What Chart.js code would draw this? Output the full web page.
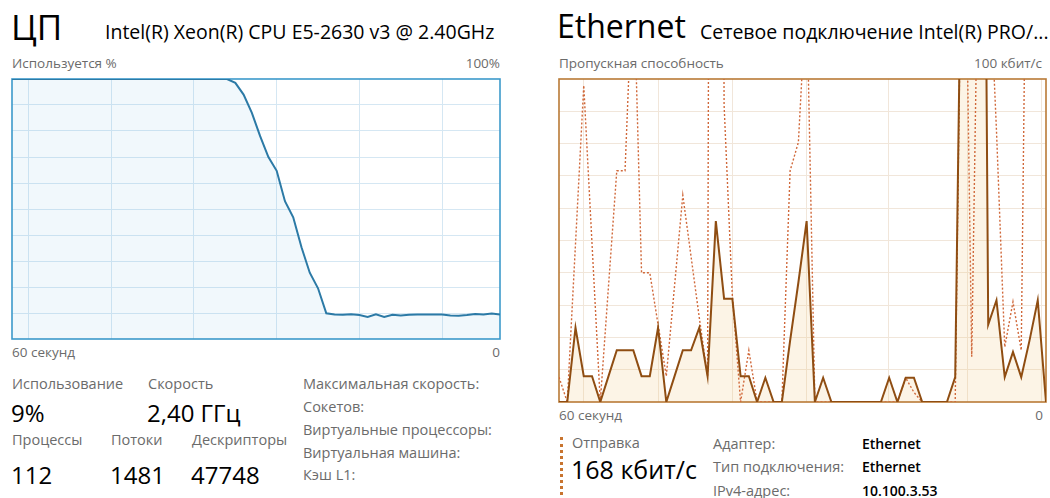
<!DOCTYPE html>
<html lang="ru">
<head>
  <meta charset="UTF-8">
  <title>Диспетчер задач — производительность</title>
  <script src="https://cdn.jsdelivr.net/npm/chart.js"></script>
  <style>
    body {
      margin: 0;
      width: 1050px;
      height: 498px;
      overflow: hidden;
      background: #fff;
      font-family: "Open Sans", "Noto Sans", sans-serif;
      color: #000;
      position: relative;
    }
    .t { position: absolute; white-space: nowrap; line-height: 1; }
    .big { font-size: 32px; }
    .sub { font-size: 19.5px; }
    .axis { font-size: 13.5px; color: #6b6b6b; }
    .lbl { font-size: 14.5px; color: #6b6b6b; }
    .val { font-size: 24px; }
    .bold { font-size: 14px; font-weight: 600; }
    .r { text-align: right; }
    canvas { position: absolute; }
    .marker {
      position: absolute;
      left: 560px; top: 437px;
      height: 58px; width: 0;
      border-left: 3px dotted #c8742f;
    }
  </style>
</head>
<body>
  <!-- ЦП -->
  <div class="t big" style="left:11px; top:9px; font-size:35px;">ЦП</div>
  <div class="t sub" style="left:105px; top:22px;">Intel(R) Xeon(R) CPU E5-2630 v3 @ 2.40GHz</div>
  <div class="t axis" style="left:12px; top:57px;">Используется %</div>
  <div class="t axis r" style="right:550px; top:57px;">100%</div>
  <canvas id="cpuChart" width="494" height="266" style="left:9px; top:76px;"></canvas>
  <div class="t axis" style="left:12px; top:346px;">60 секунд</div>
  <div class="t axis r" style="right:550px; top:346px;">0</div>

  <div class="t lbl" style="left:12px; top:377px;">Использование</div>
  <div class="t lbl" style="left:148px; top:377px;">Скорость</div>
  <div class="t val" style="left:11px; top:401px;">9%</div>
  <div class="t val" style="left:147px; top:401px;">2,40 ГГц</div>
  <div class="t lbl" style="left:12px; top:433px;">Процессы</div>
  <div class="t lbl" style="left:111px; top:433px;">Потоки</div>
  <div class="t lbl" style="left:192px; top:433px;">Дескрипторы</div>
  <div class="t val" style="left:11px; top:463px;">112</div>
  <div class="t val" style="left:110px; top:463px;">1481</div>
  <div class="t val" style="left:191px; top:463px;">47748</div>

  <div class="t lbl" style="left:303px; top:377px;">Максимальная скорость:</div>
  <div class="t lbl" style="left:303px; top:400px;">Сокетов:</div>
  <div class="t lbl" style="left:303px; top:423px;">Виртуальные процессоры:</div>
  <div class="t lbl" style="left:303px; top:446px;">Виртуальная машина:</div>
  <div class="t lbl" style="left:303px; top:468px;">Кэш L1:</div>

  <!-- Ethernet -->
  <div class="t big" style="left:557px; top:10px;">Ethernet</div>
  <div class="t sub" style="left:700px; top:22px;">Сетевое подключение Intel(R) PRO/...</div>
  <div class="t axis" style="left:559px; top:57px;">Пропускная способность</div>
  <div class="t axis r" style="right:8px; top:57px;">100 кбит/с</div>
  <canvas id="netChart" width="493" height="329" style="left:556px; top:76px;"></canvas>
  <div class="t axis" style="left:559px; top:409px;">60 секунд</div>
  <div class="t axis r" style="right:7px; top:409px;">0</div>

  <div class="marker"></div>
  <div class="t lbl" style="left:572px; top:436px;">Отправка</div>
  <div class="t val" style="left:571px; top:457px; font-size:25px;">168 кбит/с</div>
  <div class="t lbl" style="left:713px; top:437px;">Адаптер:</div>
  <div class="t lbl" style="left:713px; top:460px;">Тип подключения:</div>
  <div class="t lbl" style="left:713px; top:484px;">IPv4-адрес:</div>
  <div class="t bold" style="left:862px; top:437px;">Ethernet</div>
  <div class="t bold" style="left:862px; top:460px;">Ethernet</div>
  <div class="t bold" style="left:862px; top:484px;">10.100.3.53</div>

  <script>
    // 60 one-second samples, oldest first
    const seconds = Array.from({ length: 60 }, (_, i) => i);

    // CPU usage, %
    const cpuUsage = [
      100, 100, 100, 100, 100, 100, 100, 100, 100, 100,
      100, 100, 100, 100, 100, 100, 100, 100, 100, 100,
      100, 100, 100, 100, 100, 100, 100, 98.5, 94, 87,
      78, 70, 64.7, 53, 46.8, 35.3, 25.5, 19.5, 9.9, 9.4,
      9.3, 9.5, 9.2, 8.5, 9.5, 8.5, 9.3, 9.0, 9.3, 9.4,
      9.4, 9.4, 9.4, 9.0, 8.9, 9.2, 9.6, 9.4, 9.8, 9.4
    ];

    // Ethernet throughput, % of the 100 kbit/s scale (values above 100 run off the top)
    const netReceive = [
      0, 0, 23, 8, 8, 0, 8, 16, 16, 16,
      8, 8, 23, 0, 8, 16, 16, 23, 8, 56,
      32, 32, 8, 8, 0, 7.5, 0, 0, 19, 37,
      56, 0, 7.5, 0, 0, 0, 0, 0, 0, 0,
      7.5, 0, 7.5, 7.5, 0, 0, 0, 0, 7.7, 196,
      300, 387, 24, 31.5, 7.7, 15.5, 7.7, 19, 31.5, 0
    ];
    const netSend = [
      7.7, 0, 49, 98, 49, 0, 36, 71.6, 71.6, 136,
      40, 40, 24, 8, 36, 64, 45, 26, 8, 900,
      92, 33, 0, 16, 0, 0, 0, 0, 71.6, 80.4,
      128, 0, 0, 0, 0, 0, 0, 0, 0, 0,
      0, 0, 7.5, 3, 0, 0, 0, 0, 0, 192,
      14, 180, 143, 84, 17, 31, 16, 243, 300, 250
    ];

    // vertical grid lines scroll with time, so they sit at odd sample offsets
    const cpuGridX = [2, 12, 22, 32, 42, 52];
    const netGridX = [3, 12, 21, 30, 39.9, 49.5, 58.5];

    const toPoints = vals => vals.map((v, i) => ({ x: seconds[i], y: v }));

    // box around the plot area
    const framePlugin = {
      id: 'frame',
      beforeDatasetsDraw(chart, args, opts) {
        const { ctx, chartArea: a } = chart;
        ctx.save();
        ctx.strokeStyle = opts.color;
        ctx.lineWidth = opts.width;
        ctx.strokeRect(a.left, a.top, a.width, a.height);
        ctx.restore();
      }
    };

    function graphOptions(gridX, gridColor, frameColor) {
      return {
        responsive: false,
        animation: false,
        layout: { padding: 3 },
        scales: {
          x: {
            type: 'linear', min: 0, max: 59,
            afterBuildTicks: s => { s.ticks = gridX.map(v => ({ value: v })); },
            ticks: { display: false },
            grid: { color: gridColor, drawTicks: false, lineWidth: 1 },
            border: { display: false }
          },
          y: {
            min: 0, max: 100,
            afterBuildTicks: s => { s.ticks = [10, 20, 30, 40, 50, 60, 70, 80, 90].map(v => ({ value: v })); },
            ticks: { display: false },
            grid: { color: gridColor, drawTicks: false, lineWidth: 1 },
            border: { display: false }
          }
        },
        plugins: {
          legend: { display: false },
          tooltip: { enabled: false },
          filler: { drawTime: 'beforeDatasetsDraw' },
          frame: { color: frameColor, width: 1.6 }
        },
        elements: { point: { radius: 0 }, line: { tension: 0 } }
      };
    }

    new Chart(document.getElementById('cpuChart'), {
      type: 'line',
      data: {
        datasets: [{
          data: toPoints(cpuUsage),
          borderColor: '#2c7aa6',
          borderWidth: 2,
          backgroundColor: 'rgba(120, 185, 225, 0.1)',
          fill: 'origin'
        }]
      },
      options: graphOptions(cpuGridX, '#d5e7f3', '#3c9acb'),
      plugins: [framePlugin]
    });

    new Chart(document.getElementById('netChart'), {
      type: 'line',
      data: {
        datasets: [{
          label: 'Приём',
          data: toPoints(netReceive),
          borderColor: '#8f4d12',
          borderWidth: 2,
          backgroundColor: 'rgba(240, 200, 130, 0.2)',
          fill: 'origin',
          order: 0
        }, {
          label: 'Отправка',
          data: toPoints(netSend),
          borderColor: '#d0683a',
          borderWidth: 1.4,
          borderDash: [2, 2],
          fill: false,
          order: 1
        }]
      },
      options: graphOptions(netGridX, '#f1e6da', '#b97a36'),
      plugins: [framePlugin]
    });
  </script>
</body>
</html>
